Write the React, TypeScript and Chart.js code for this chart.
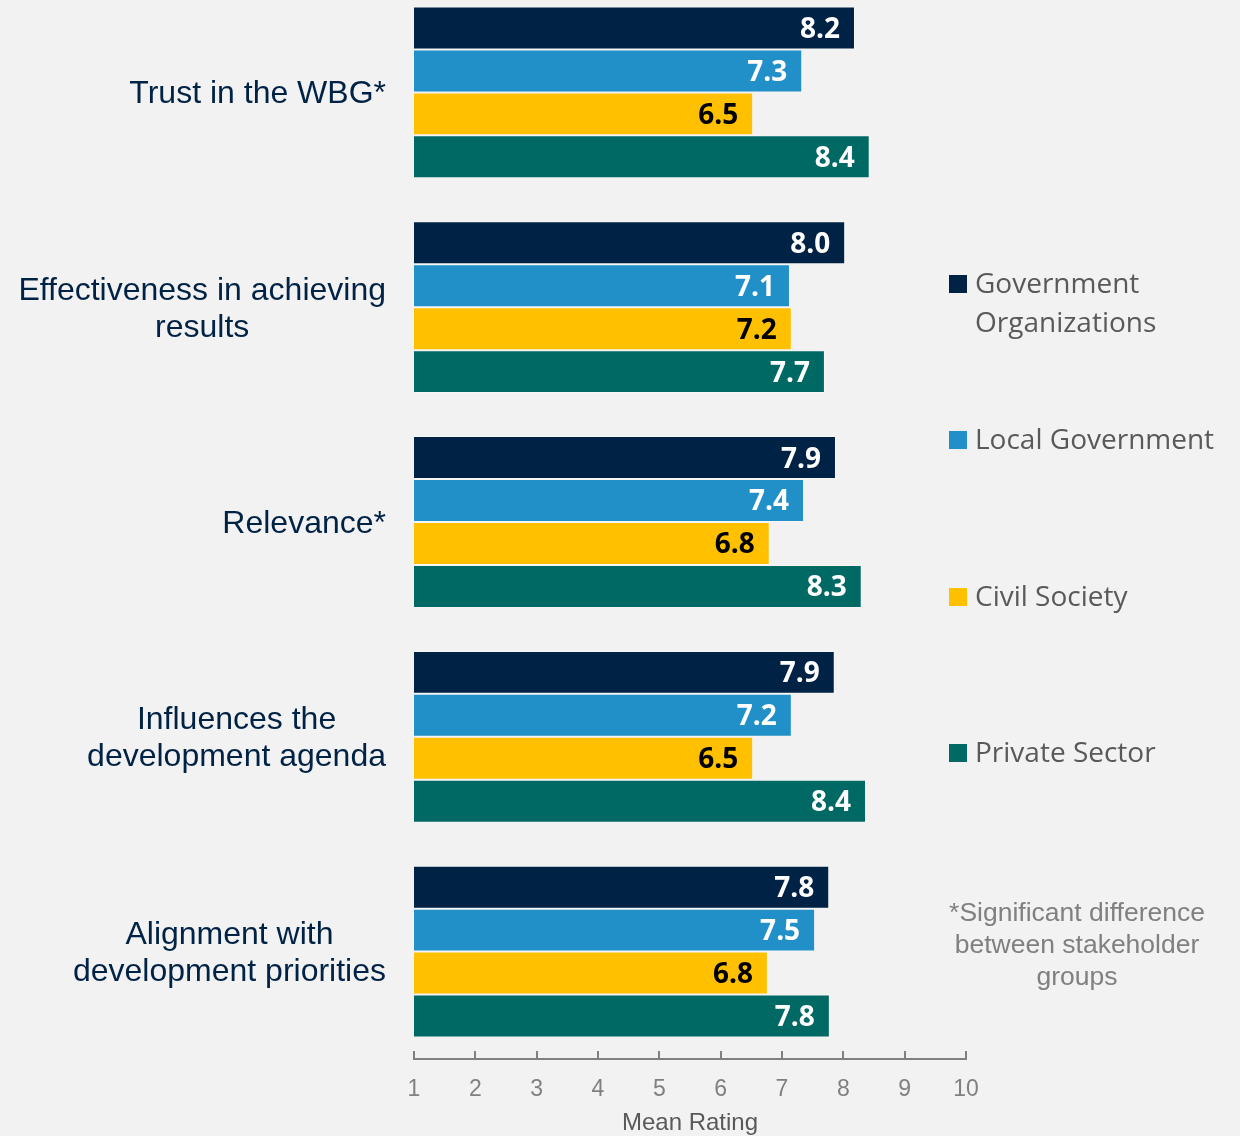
import React, { useEffect, useRef } from "react";
import { Chart, registerables } from "chart.js";

Chart.register(...registerables);

const categories = [
  ["Trust in the WBG*"],
  ["Effectiveness in achieving", "results"],
  ["Relevance*"],
  ["Influences the", "development agenda"],
  ["Alignment with", "development priorities"],
];
const seriesNames = ["Government Organizations", "Local Government", "Civil Society", "Private Sector"];
const govOrgs = [8.19, 8.03, 7.88, 7.86, 7.77];
const localGov = [7.33, 7.13, 7.36, 7.16, 7.54];
const civilSociety = [6.53, 7.16, 6.8, 6.53, 6.77];
const privateSector = [8.43, 7.7, 8.3, 8.37, 7.78];
const xTicks = [1, 2, 3, 4, 5, 6, 7, 8, 9, 10];
const xTitle = "Mean Rating";
const footnote = ["*Significant difference", "between stakeholder", "groups"];

const colors = ["#002245", "#2290C8", "#FFC000", "#006964"];
const labelColors = ["#FFFFFF", "#FFFFFF", "#000000", "#FFFFFF"];

const OFF = 15; // canvas is shifted up by this many px

export default function App() {
  const ref = useRef<HTMLCanvasElement | null>(null);

  useEffect(() => {
    document.body.style.margin = "0";
    document.body.style.background = "#F2F2F2";
    const canvas = ref.current!;
    const overlay = {
      id: "overlay",
      beforeDraw(chart: any) {
        const ctx = chart.ctx;
        ctx.save();
        ctx.fillStyle = "#F2F2F2";
        ctx.fillRect(0, 0, chart.width, chart.height);
        ctx.restore();
      },
      afterDraw(chart: any) {
        const ctx = chart.ctx;
        const ys = chart.scales.y;
        const xs = chart.scales.x;
        const area = chart.chartArea;
        ctx.save();
        // category labels
        ctx.font = '32px "Liberation Sans", Arial, sans-serif';
        ctx.fillStyle = "#002245";
        ctx.textAlign = "center";
        ctx.textBaseline = "middle";
        categories.forEach((lines, i) => {
          const yc = ys.getPixelForValue(i) + 2;
          const w = Math.max(...lines.map((l) => ctx.measureText(l).width));
          const cx = 386 - w / 2;
          lines.forEach((l, j) => {
            ctx.fillText(l, cx, yc + (j - (lines.length - 1) / 2) * 37);
          });
        });
        // tick marks (upward)
        ctx.strokeStyle = "#808080";
        ctx.lineWidth = 2;
        xTicks.forEach((v) => {
          const x = Math.round(xs.getPixelForValue(v));
          ctx.beginPath();
          ctx.moveTo(x, area.bottom);
          ctx.lineTo(x, area.bottom - 8);
          ctx.stroke();
        });
        // axis title
        ctx.font = '24px "Liberation Sans", Arial, sans-serif';
        ctx.fillStyle = "#595959";
        ctx.textAlign = "center";
        ctx.fillText(xTitle, (area.left + area.right) / 2, 1123 + OFF);
        // value labels
        ctx.font = 'bold 28px "Open Sans", sans-serif';
        ctx.textAlign = "right";
        ctx.textBaseline = "middle";
        chart.data.datasets.forEach((ds: any, di: number) => {
          const meta = chart.getDatasetMeta(di);
          ctx.fillStyle = labelColors[di];
          meta.data.forEach((bar: any, i: number) => {
            ctx.fillText(ds.data[i].toFixed(1), bar.x - 15, bar.y + 2);
          });
        });
        // legend
        const legendY = [285, 441, 598, 754];
        ctx.font = '28px "Open Sans", sans-serif';
        ctx.textAlign = "left";
        seriesNames.forEach((name, i) => {
          const y = legendY[i] + OFF;
          ctx.fillStyle = colors[i];
          ctx.fillRect(949, y - 10, 18, 18);
          ctx.fillStyle = "#595959";
          if (i === 0) {
            ctx.fillText("Government", 975, y);
            ctx.fillText("Organizations", 975, y + 39);
          } else {
            ctx.fillText(name, 975, y);
          }
        });
        // footnote
        ctx.font = '26.5px "Liberation Sans", Arial, sans-serif';
        ctx.fillStyle = "#808080";
        ctx.textAlign = "center";
        footnote.forEach((l, j) => {
          ctx.fillText(l, 1077, 914 + j * 32 + OFF);
        });
        ctx.restore();
      },
    };

    const chart = new Chart(canvas, {
      type: "bar",
      data: {
        labels: categories.map((c) => c.join(" ")),
        datasets: [govOrgs, localGov, civilSociety, privateSector].map((d, i) => ({
          label: seriesNames[i],
          data: d,
          backgroundColor: colors[i],
          borderColor: "rgba(255,255,255,0.3)",
          borderWidth: 1,
          base: 1,
          categoryPercentage: 0.8,
          barPercentage: 1,
        })),
      },
      options: {
        indexAxis: "y",
        animation: false,
        responsive: false,
        maintainAspectRatio: false,
        layout: { padding: { left: 414, right: 274, top: 0, bottom: 0 } },
        plugins: { legend: { display: false }, tooltip: { enabled: false } },
        scales: {
          y: { display: false },
          x: {
            min: 1,
            max: 10,
            afterFit: (s: any) => {
              s.height = 77;
            },
            grid: { display: false },
            border: { display: true, color: "#808080", width: 2 },
            ticks: {
              stepSize: 1,
              padding: 9,
              color: "#808080",
              font: { family: '"Liberation Sans", Arial, sans-serif', size: 23 },
            },
          },
        },
      },
      plugins: [overlay],
    } as any);
    return () => chart.destroy();
  }, []);

  return (
    <div
      style={{
        position: "relative",
        width: 1240,
        height: 1136,
        overflow: "hidden",
        background: "#F2F2F2",
      }}
    >
      <canvas
        ref={ref}
        width={1240}
        height={1151}
        style={{ position: "absolute", left: 0, top: -OFF, width: 1240, height: 1151 }}
      />
    </div>
  );
}
